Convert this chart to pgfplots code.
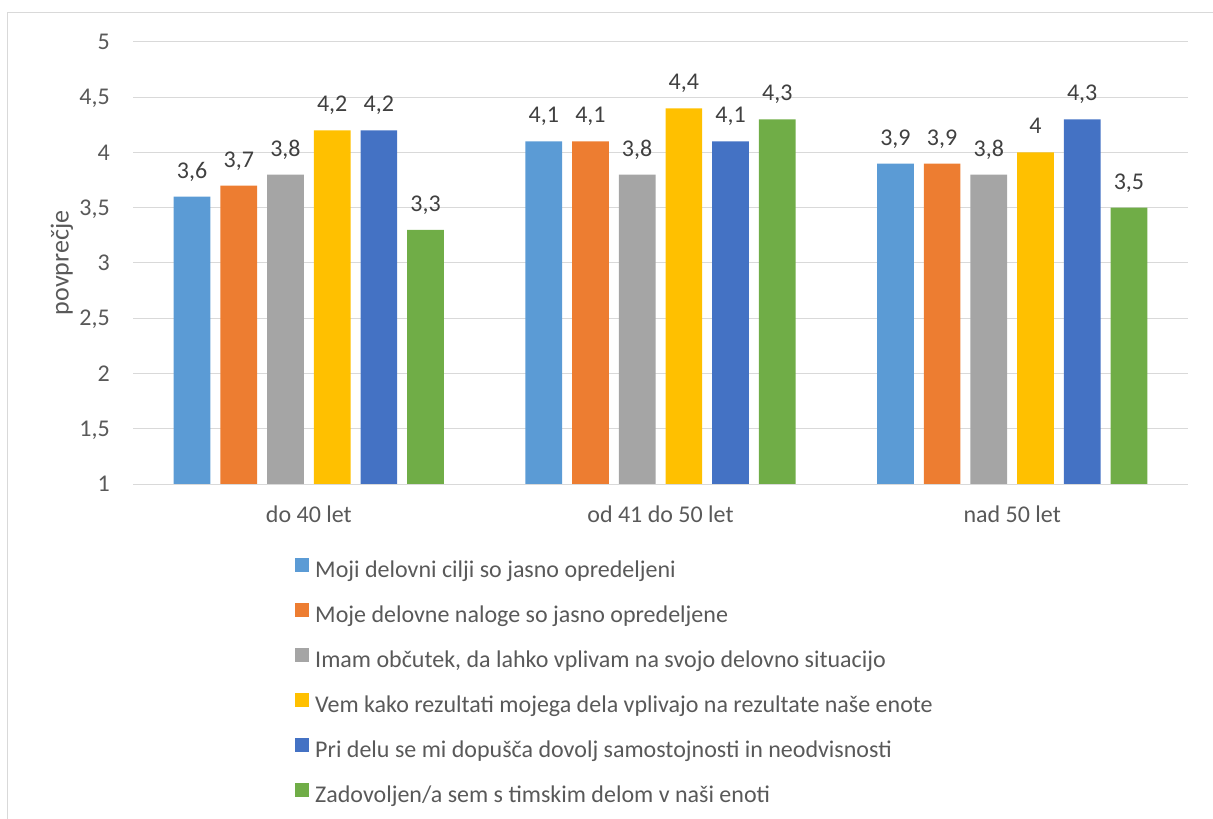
\documentclass[border=0pt]{standalone}
\usepackage{fontspec}
\setmainfont{Carlito}
\usepackage{pgfplots}
\pgfplotsset{compat=1.18}
\definecolor{cA}{HTML}{5B9BD5}
\definecolor{cB}{HTML}{ED7D31}
\definecolor{cC}{HTML}{A5A5A5}
\definecolor{cD}{HTML}{FFC000}
\definecolor{cE}{HTML}{4472C4}
\definecolor{cF}{HTML}{70AD47}
\definecolor{gridgray}{HTML}{D9D9D9}
\definecolor{txtgray}{HTML}{595959}
\definecolor{lblgray}{HTML}{404040}
\newcommand{\cfont}{\fontsize{24bp}{28bp}\selectfont}
\newcommand{\tfont}{\fontsize{26bp}{31bp}\selectfont}
\begin{document}
\begin{tikzpicture}
\path[use as bounding box] (0bp,0bp) rectangle (1213bp,819bp);
\draw[gridgray, line width=1bp] (7bp,-2bp) -- (7bp,806.5bp) -- (1215bp,806.5bp);
\begin{axis}[
  at={(133bp,335bp)}, anchor=south west,
  scale only axis, width=1055bp, height=442bp,
  ybar=10bp, bar width=36.7bp,
  xmin=-0.5, xmax=2.5, ymin=1, ymax=5,
  xtick={0,1,2},
  xticklabels={do 40 let, od 41 do 50 let, nad 50 let},
  ytick={1,1.5,2,2.5,3,3.5,4,4.5,5},
  /pgf/number format/use comma,
  /pgf/number format/assume math mode=true,
  major tick length=0pt,
  axis line style={draw=none},
  ymajorgrids, major grid style={gridgray, line width=1bp},
  tick label style={font=\cfont, text=txtgray},
  xticklabel style={anchor=base, yshift=-38bp, inner sep=0pt},
  yticklabel style={anchor=east, xshift=-23bp, inner sep=0pt, text height=15bp, text depth=0pt},
  ylabel={povprečje},
  ylabel style={at={(axis description cs:-0.0673,0.5)}, anchor=center, font=\tfont, text=txtgray},
  nodes near coords,
  every node near coord/.append style={font=\cfont, text=lblgray, anchor=base, yshift=18.5bp, inner sep=0pt},
  every axis plot/.append style={draw=none,
    legend image code/.code={\fill[##1, draw=none] (0bp,0bp) rectangle (14bp,14bp);}},
  legend style={at={(axis description cs:0.1536,-0.1674)}, anchor=north west,
    draw=none, fill=none, font=\cfont, text=txtgray, inner sep=0pt,
    row sep=19.4bp,
    nodes={inner sep=0pt, text height=17bp, text depth=6bp},
    /tikz/every odd column/.append style={column sep=6bp}},
  legend cell align=left,
  legend columns=1,
]
\addplot[fill=cA] coordinates {(0,3.6) (1,4.1) (2,3.9)};
\addplot[fill=cB] coordinates {(0,3.7) (1,4.1) (2,3.9)};
\addplot[fill=cC] coordinates {(0,3.8) (1,3.8) (2,3.8)};
\addplot[fill=cD] coordinates {(0,4.2) (1,4.4) (2,4.0)};
\addplot[fill=cE] coordinates {(0,4.2) (1,4.1) (2,4.3)};
\addplot[fill=cF] coordinates {(0,3.3) (1,4.3) (2,3.5)};
\legend{Moji delovni cilji so jasno opredeljeni,
Moje delovne naloge so jasno opredeljene,
{Imam občutek, da lahko vplivam na svojo delovno situacijo},
Vem kako rezultati mojega dela vplivajo na rezultate naše enote,
Pri delu se mi dopušča dovolj samostojnosti in neodvisnosti,
Zadovoljen/a sem s timskim delom v naši enoti}
\end{axis}
\end{tikzpicture}
\end{document}
